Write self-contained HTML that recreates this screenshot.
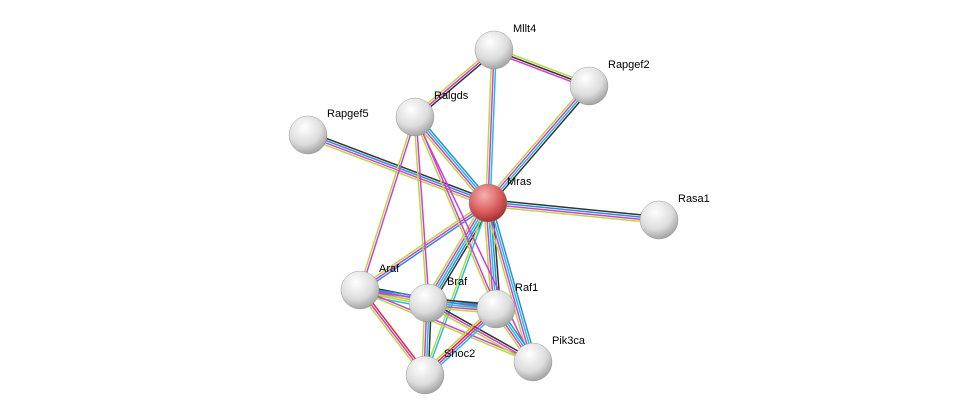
<!DOCTYPE html>
<html><head><meta charset="utf-8"><style>
html,body{margin:0;padding:0;background:#fff;}
svg{display:block;}
text{font-family:"Liberation Sans",sans-serif;font-size:11px;fill:#000;}
</style></head><body>
<svg id="s" width="975" height="420" viewBox="0 0 975 420" xmlns="http://www.w3.org/2000/svg">
<defs>
<radialGradient id="g" cx="0.4" cy="0.3" r="0.75">
<stop offset="0" stop-color="#ffffff"/><stop offset="0.6" stop-color="#dcdcdc"/><stop offset="1" stop-color="#9a9a9a"/>
</radialGradient>
<radialGradient id="r" cx="0.4" cy="0.3" r="0.75">
<stop offset="0" stop-color="#f4b0b0"/><stop offset="0.6" stop-color="#d85a5a"/><stop offset="1" stop-color="#9a2a2a"/>
</radialGradient>
</defs>
<g id="edges"></g>
<g id="nodes"></g>
</svg>
<script>
var N={Mllt4:[494,50],Rapgef2:[589,86],Ralgds:[415,117],Rapgef5:[308,135],Mras:[488,203],Rasa1:[659,220],Araf:[360,290],Braf:[428,303],Raf1:[496,309],Pik3ca:[533,362],Shoc2:[425,375]};
var C={k:"#333333",b:"#2a8fd8",c:"#20c0e0",m:"#d040d0",y:"#b8d840",r:"#e03030",p:"#7050c0"};
var E=[["Mllt4","Rapgef2","ykm"],["Mllt4","Ralgds","kmy"],["Mllt4","Mras","cmy"],["Rapgef2","Mras","kcmy"],["Ralgds","Mras","bcmy"],["Rapgef5","Mras","kbmy"],["Mras","Rasa1","kbmy"],["Mras","Araf","bmy"],["Mras","Braf","kbcmy"],["Mras","Raf1","kbcmy"],["Mras","Pik3ca","bcmy"],["Mras","Shoc2","cy"],["Ralgds","Araf","my"],["Ralgds","Braf","my"],["Ralgds","Raf1","my"],["Ralgds","Pik3ca","m"],["Araf","Braf","kbmyc"],["Araf","Raf1","bmy"],["Araf","Pik3ca","my"],["Araf","Shoc2","rmy"],["Braf","Raf1","kbcmy"],["Braf","Pik3ca","kmy"],["Braf","Shoc2","kcmy"],["Raf1","Pik3ca","bcmy"],["Raf1","Shoc2","cmry"]];
var eg=document.getElementById("edges"),ng=document.getElementById("nodes"),ns="http://www.w3.org/2000/svg";
E.forEach(function(e){var a=N[e[0]],b=N[e[1]],dx=b[0]-a[0],dy=b[1]-a[1],L=Math.hypot(dx,dy),px=-dy/L,py=dx/L,n=e[2].length;
for(var i=0;i<n;i++){var o=(i-(n-1)/2)*2.2;var l=document.createElementNS(ns,"line");
l.setAttribute("x1",a[0]+px*o);l.setAttribute("y1",a[1]+py*o);l.setAttribute("x2",b[0]+px*o);l.setAttribute("y2",b[1]+py*o);
l.setAttribute("stroke",C[e[2][i]]);l.setAttribute("stroke-width","1.5");eg.appendChild(l);}});
for(var k in N){var p=N[k];var c=document.createElementNS(ns,"circle");c.setAttribute("cx",p[0]);c.setAttribute("cy",p[1]);c.setAttribute("r",19);
c.setAttribute("fill",k=="Mras"?"url(#r)":"url(#g)");c.setAttribute("stroke","#888");c.setAttribute("stroke-width","0.4");ng.appendChild(c);
var t=document.createElementNS(ns,"text");t.setAttribute("x",p[0]+19);t.setAttribute("y",p[1]-18);t.textContent=k;ng.appendChild(t);}
</script>
</body></html>
